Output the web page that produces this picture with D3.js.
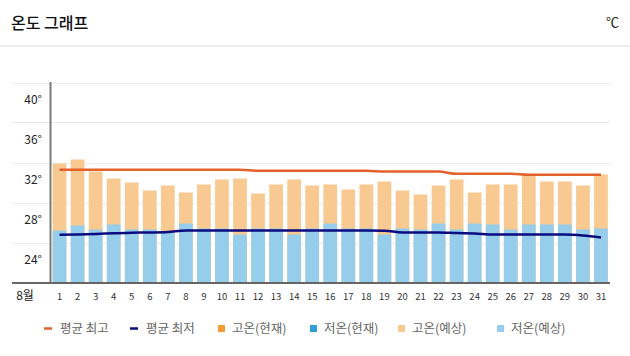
<!DOCTYPE html>
<html><head><meta charset="utf-8">
<script src="https://cdn.jsdelivr.net/npm/d3@7"></script>
<style>
body{margin:0;background:#fff;}
svg{display:block;font-family:"Noto Sans CJK KR","Noto Sans",sans-serif;}
</style></head>
<body><svg id="c" width="630" height="356"></svg>
<script>
const days = ["1","2","3","4","5","6","7","8","9","10","11","12","13","14","15","16","17","18","19","20","21","22","23","24","25","26","27","28","29","30","31"];
const highForecast = [31.9,32.3,31.1,30.4,30.0,29.2,29.7,29.0,29.8,30.3,30.4,28.9,29.8,30.3,29.7,29.8,29.3,29.8,30.1,29.2,28.8,29.7,30.3,29.0,29.8,29.8,30.8,30.1,30.1,29.7,30.8];
const lowForecast = [25.2,25.7,25.3,25.8,25.3,25.3,25.0,25.9,25.4,25.4,24.8,25.4,25.4,24.8,25.4,25.9,25.4,25.4,24.8,25.4,25.3,25.9,25.3,25.9,25.8,25.3,25.8,25.8,25.8,25.3,25.4];
const avgHigh = [31.27,31.27,31.27,31.27,31.27,31.27,31.27,31.27,31.27,31.27,31.27,31.17,31.17,31.17,31.17,31.17,31.17,31.17,31.1,31.1,31.1,31.1,30.87,30.87,30.87,30.87,30.77,30.77,30.77,30.77,30.77];
const avgLow = [24.77,24.8,24.85,24.92,24.98,25.0,25.05,25.2,25.2,25.2,25.2,25.2,25.2,25.2,25.2,25.2,25.2,25.2,25.18,25.0,25.0,25.0,24.94,24.9,24.8,24.8,24.8,24.8,24.8,24.7,24.5];
const yTicks = [24,28,32,36,40];
const legendItems = [
  {label:"평균 최고", type:"line", color:"#e5612b"},
  {label:"평균 최저", type:"line", color:"#0b0b80"},
  {label:"고온(현재)", type:"rect", color:"#f6993a"},
  {label:"저온(현재)", type:"rect", color:"#2f9ed7"},
  {label:"고온(예상)", type:"rect", color:"#f9c992"},
  {label:"저온(예상)", type:"rect", color:"#95cdea"}
];

const svg = d3.select("#c");
// header
svg.append("text").attr("x",11).attr("y",29).attr("font-size",16).attr("font-weight",500).attr("fill","#111").text("온도 그래프");
svg.append("text").attr("x",619).attr("y",27).attr("text-anchor","end").attr("font-size",13).attr("fill","#222").text("℃");
svg.append("line").attr("x1",0).attr("x2",630).attr("y1",46).attr("y2",46).attr("stroke","#ddd").attr("stroke-width",1);

const x = d3.scaleBand().domain(days).range([50.5,610]).paddingInner(0.24).paddingOuter(0.12);
const y = d3.scaleLinear().domain([20,40]).range([282.5,82.5]);

// gridlines
const g = svg.append("g");
g.selectAll("line.grid").data(yTicks).join("line")
  .attr("x1",12).attr("x2",610).attr("y1",d=>Math.round(y(d))+0.5).attr("y2",d=>Math.round(y(d))+0.5)
  .attr("stroke","#ebebeb").attr("stroke-width",1);
g.selectAll("text.yl").data(yTicks).join("text")
  .attr("x",42).attr("y",d=>y(d)+21).attr("text-anchor","end").attr("font-size",12).attr("fill","#222")
  .text(d=>d+"°");

// bars
g.selectAll("rect.hi").data(highForecast).join("rect")
  .attr("x",(d,i)=>x(days[i])).attr("width",x.bandwidth())
  .attr("y",d=>y(d)).attr("height",d=>y(20)-y(d)).attr("fill","#f9c992");
g.selectAll("rect.lo").data(lowForecast).join("rect")
  .attr("x",(d,i)=>x(days[i])).attr("width",x.bandwidth())
  .attr("y",d=>y(d)).attr("height",d=>y(20)-y(d)).attr("fill","#95cdea");

// lines
const line = d3.line().x((d,i)=>x(days[i])+x.bandwidth()/2).y(d=>y(d)).curve(d3.curveMonotoneX);
g.append("path").attr("d",line(avgHigh)).attr("fill","none").attr("stroke","#e5612b").attr("stroke-width",2.5);
g.append("path").attr("d",line(avgLow)).attr("fill","none").attr("stroke","#0b0b80").attr("stroke-width",2.5);

// axes
g.append("line").attr("x1",50.5).attr("x2",50.5).attr("y1",82).attr("y2",283).attr("stroke","#7a7a7a").attr("stroke-width",2);
g.append("line").attr("x1",12).attr("x2",610).attr("y1",283).attr("y2",283).attr("stroke","#666").attr("stroke-width",2);

// x labels
g.append("text").attr("x",25).attr("y",300).attr("text-anchor","middle").attr("font-size",12).attr("fill","#222").text("8월");
g.selectAll("text.xl").data(days).join("text")
  .attr("x",d=>x(d)+x.bandwidth()/2).attr("y",300).attr("text-anchor","middle").attr("font-size",9.5).attr("fill","#333")
  .text(d=>d);

// legend
const legX = [44,130,218,310,398,497];
const lg = svg.append("g");
legendItems.forEach((it,i)=>{
  const gx = legX[i];
  if(it.type==="line"){
    lg.append("line").attr("x1",gx).attr("x2",gx+8).attr("y1",328.5).attr("y2",328.5).attr("stroke",it.color).attr("stroke-width",2.5);
  } else {
    lg.append("rect").attr("x",gx).attr("y",325).attr("width",7).attr("height",7).attr("fill",it.color);
  }
  lg.append("text").attr("x",gx+(it.type==="line"?16:14)).attr("y",333).attr("font-size",12.5).attr("fill","#666").text(it.label);
});
</script></body></html>
